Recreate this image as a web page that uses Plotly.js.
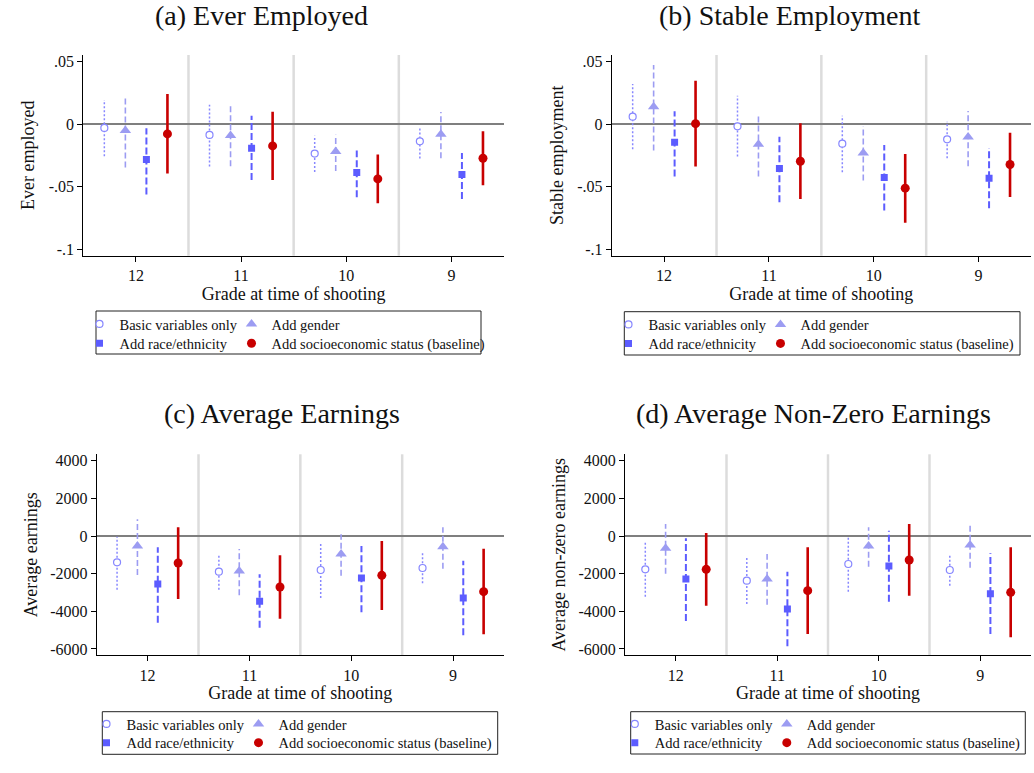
<!DOCTYPE html>
<html>
<head>
<meta charset="utf-8">
<script src="https://cdn.plot.ly/plotly-3.0.1.min.js"></script>
<style>
html,body{margin:0;padding:0;background:#fff;}
#chart{width:1034px;height:773px;}
</style>
</head>
<body>
<div id="chart"></div>
<script>
// ---------- data ----------
const grades = ['12', '11', '10', '9'];
const seriesNames = ['Basic variables only', 'Add gender', 'Add race/ethnicity', 'Add socioeconomic status (baseline)'];
const panelTitles = ['(a) Ever Employed', '(b) Stable Employment', '(c) Average Earnings', '(d) Average Non-Zero Earnings'];
const yTitles = ['Ever employed', 'Stable employment', 'Average earnings', 'Average non-zero earnings'];
const xTitle = 'Grade at time of shooting';

const propTickVals = [0.05, 0, -0.05, -0.1];
const propTickText = ['.05', '0', '-.05', '-.1'];
const earnTickVals = [4000, 2000, 0, -2000, -4000, -6000];
const earnTickText = ['4000', '2000', '0', '-2000', '-4000', '-6000'];

// (a) Ever employed
const ever_basic = [-0.0029, -0.0085, -0.0234, -0.0136];
const ever_basic_lo = [-0.0256, -0.0338, -0.0381, -0.0274];
const ever_basic_hi = [0.0194, 0.0157, -0.0091, -0.0019];
const ever_gender = [-0.0050, -0.0090, -0.0218, -0.0080];
const ever_gender_lo = [-0.0346, -0.0336, -0.0373, -0.0272];
const ever_gender_hi = [0.0229, 0.0149, -0.0083, 0.0099];
const ever_race = [-0.0282, -0.0192, -0.0386, -0.0402];
const ever_race_lo = [-0.0562, -0.0445, -0.0583, -0.0597];
const ever_race_hi = [-0.0032, 0.0069, -0.0210, -0.0229];
const ever_ses = [-0.0077, -0.0173, -0.0437, -0.0272];
const ever_ses_lo = [-0.0394, -0.0445, -0.0631, -0.0487];
const ever_ses_hi = [0.0242, 0.0101, -0.0242, -0.0056];

// (b) Stable employment
const stable_basic = [0.0061, -0.0016, -0.0155, -0.0120];
const stable_basic_lo = [-0.0200, -0.0258, -0.0384, -0.0272];
const stable_basic_hi = [0.0322, 0.0229, 0.0069, 0.0021];
const stable_gender = [0.0141, -0.0160, -0.0229, -0.0101];
const stable_gender_lo = [-0.0210, -0.0418, -0.0450, -0.0336];
const stable_gender_hi = [0.0474, 0.0085, -0.0016, 0.0107];
const stable_race = [-0.0144, -0.0354, -0.0426, -0.0432];
const stable_race_lo = [-0.0418, -0.0623, -0.0690, -0.0671];
const stable_race_hi = [0.0104, -0.0099, -0.0165, -0.0189];
const stable_ses = [0.0005, -0.0296, -0.0511, -0.0322];
const stable_ses_lo = [-0.0338, -0.0597, -0.0788, -0.0581];
const stable_ses_hi = [0.0349, 0.0008, -0.0237, -0.0067];

// (c) Average earnings
const earn_basic = [-1398, -1894, -1805, -1699];
const earn_basic_lo = [-2850, -2850, -3292, -2513];
const earn_basic_hi = [-35, -956, -319, -920];
const earn_gender = [-531, -1858, -956, -566];
const earn_gender_lo = [-2071, -3150, -2106, -1735];
const earn_gender_hi = [885, -690, 88, 460];
const earn_race = [-2549, -3469, -2230, -3292];
const earn_race_lo = [-4602, -4867, -4053, -5275];
const earn_race_hi = [-602, -2035, -531, -1310];
const earn_ses = [-1434, -2708, -2089, -2956];
const earn_ses_lo = [-3345, -4389, -3929, -5222];
const earn_ses_hi = [460, -1027, -265, -673];

// (d) Average non-zero earnings
const nz_basic = [-1770, -2372, -1487, -1805];
const nz_basic_lo = [-3221, -3611, -2956, -2637];
const nz_basic_hi = [-319, -1133, -35, -1009];
const nz_gender = [-655, -2283, -531, -478];
const nz_gender_lo = [-2000, -3646, -1628, -1681];
const nz_gender_hi = [637, -956, 460, 566];
const nz_race = [-2283, -3876, -1593, -3062];
const nz_race_lo = [-4514, -5859, -3487, -5204];
const nz_race_hi = [-124, -1894, 283, -920];
const nz_ses = [-1770, -2903, -1274, -2991];
const nz_ses_lo = [-3699, -5204, -3168, -5381];
const nz_ses_hi = [159, -602, 637, -602];

// ---------- layout / styling ----------
const W = 1034, H = 773;
const px = v => v / W;
const py = v => 1 - v / H;
const FONT = 'Liberation Serif, Times New Roman, serif';

const styles = [
  {symbol: 'circle', size: 7, fill: '#ffffff', color: '#8787ff', lw: 1.2, dash: '2px,2px', width: 1.5},
  {symbol: 'triangle-up', size: 10, fill: '#9c9cf2', color: '#9c9cf2', lw: 0, dash: '6px,3px', width: 1.6},
  {symbol: 'square', size: 7, fill: '#5c5cff', color: '#5c5cff', lw: 0, dash: '7px,3px', width: 2},
  {symbol: 'circle', size: 9, fill: '#c80000', color: '#c80000', lw: 0, dash: 'solid', width: 2.6}
];
const offsets = [-0.3, -0.1, 0.1, 0.3];

const panels = [
  {est: [ever_basic, ever_gender, ever_race, ever_ses], lo: [ever_basic_lo, ever_gender_lo, ever_race_lo, ever_ses_lo],
   hi: [ever_basic_hi, ever_gender_hi, ever_race_hi, ever_ses_hi],
   xd: [83.3, 504], yd: [55, 255.7], yr: [-0.1051, 0.0554], tv: propTickVals, tt: propTickText,
   title: [261, 15], legendRows: [324, 343.3], legendX: 92.5, box: [96, 311, 481, 354], ys: 9},
  {est: [stable_basic, stable_gender, stable_race, stable_ses], lo: [stable_basic_lo, stable_gender_lo, stable_race_lo, stable_ses_lo],
   hi: [stable_basic_hi, stable_gender_hi, stable_race_hi, stable_ses_hi],
   xd: [611.7, 1031], yd: [55, 255.7], yr: [-0.1051, 0.0554], tv: propTickVals, tt: propTickText,
   title: [790, 15], legendRows: [324.5, 343.5], legendX: 621.5, box: [624.3, 311.7, 1020, 355], ys: 8},
  {est: [earn_basic, earn_gender, earn_race, earn_ses], lo: [earn_basic_lo, earn_gender_lo, earn_race_lo, earn_ses_lo],
   hi: [earn_basic_hi, earn_gender_hi, earn_race_hi, earn_ses_hi],
   xd: [96.7, 504], yd: [454.3, 655.3], yr: [-6335, 4340], tv: earnTickVals, tt: earnTickText,
   title: [282, 413], legendRows: [724, 742.7], legendX: 99.5, box: [102.3, 711.7, 497.7, 754.3], ys: 7},
  {est: [nz_basic, nz_gender, nz_race, nz_ses], lo: [nz_basic_lo, nz_gender_lo, nz_race_lo, nz_ses_lo],
   hi: [nz_basic_hi, nz_gender_hi, nz_race_hi, nz_ses_hi],
   xd: [625, 1031], yd: [454.3, 655.3], yr: [-6335, 4340], tv: earnTickVals, tt: earnTickText,
   title: [813, 413], legendRows: [724, 742.7], legendX: 627.8, box: [630.7, 711.7, 1025.3, 754], ys: 8}
];

const data = [];
const layout = {
  width: W, height: H,
  margin: {l: 0, r: 0, t: 0, b: 0},
  paper_bgcolor: '#ffffff', plot_bgcolor: '#ffffff',
  font: {family: FONT, color: '#111', size: 16},
  showlegend: true,
  annotations: [], shapes: []
};

panels.forEach((p, pi) => {
  const n = pi === 0 ? '' : String(pi + 1);
  const xa = 'x' + n, ya = 'y' + n;
  const legA = pi === 0 ? 'legend' : 'legend' + (2 * pi + 1);
  const legB = 'legend' + (2 * pi + 2);

  // CI lines first
  for (let s = 0; s < 4; s++) {
    const xs = [], ys = [];
    grades.forEach((g, gi) => {
      const x = gi + offsets[s];
      xs.push(x, x, null);
      ys.push(p.lo[s][gi], p.hi[s][gi], null);
    });
    data.push({type: 'scatter', mode: 'lines', x: xs, y: ys, xaxis: xa, yaxis: ya,
      line: {color: styles[s].color, width: styles[s].width, dash: styles[s].dash},
      showlegend: false, hoverinfo: 'skip'});
  }
  // point estimates
  for (let s = 0; s < 4; s++) {
    const tr = {type: 'scatter', mode: 'markers', name: seriesNames[s],
      x: grades.map((g, gi) => gi + offsets[s]), y: p.est[s], xaxis: xa, yaxis: ya,
      marker: {symbol: styles[s].symbol, size: styles[s].size, color: styles[s].fill,
        line: {color: styles[s].color, width: styles[s].lw}},
      legend: s < 2 ? legA : legB, showlegend: true};
    if (s % 2 === 0) tr.legendwidth = 120;
    data.push(tr);
  }

  layout['xaxis' + n] = {
    domain: [px(p.xd[0]), px(p.xd[1])], anchor: ya, range: [-0.5, 3.5],
    tickvals: [0, 1, 2, 3], ticktext: grades, tickfont: {size: 16, color: '#111'},
    showline: true, linecolor: '#000', linewidth: 1, ticks: 'outside', ticklen: 5, tickcolor: '#000',
    showgrid: false, zeroline: false, fixedrange: true,
    title: {text: xTitle, font: {size: 18, color: '#111'}, standoff: 2}
  };
  layout['yaxis' + n] = {
    domain: [py(p.yd[1]), py(p.yd[0])], anchor: xa, range: p.yr,
    tickvals: p.tv, ticktext: p.tt, tickfont: {size: 16, color: '#111'},
    showline: true, linecolor: '#000', linewidth: 1, ticks: 'outside', ticklen: 5, tickcolor: '#000',
    showgrid: false, zeroline: true, zerolinecolor: '#7f7f7f', zerolinewidth: 2, fixedrange: true,
    title: {text: yTitles[pi], font: {size: 18, color: '#111'}, standoff: p.ys}
  };

  // group separators
  [0.5, 1.5, 2.5].forEach(k => layout.shapes.push({type: 'line', xref: xa, yref: ya + ' domain',
    x0: k, x1: k, y0: 0, y1: 1, line: {color: '#dcdcdc', width: 2.5}, layer: 'below'}));

  // panel title
  layout.annotations.push({text: panelTitles[pi], xref: 'paper', yref: 'paper',
    x: px(p.title[0]), y: py(p.title[1]), xanchor: 'center', yanchor: 'middle', showarrow: false,
    font: {size: 28, color: '#111', family: FONT}});

  // legend box
  layout.shapes.push({type: 'rect', xref: 'paper', yref: 'paper',
    x0: px(p.box[0]), x1: px(p.box[2]), y0: py(p.box[3]), y1: py(p.box[1]),
    line: {color: '#222', width: 1}, fillcolor: 'rgba(0,0,0,0)'});

  [legA, legB].forEach((lid, r) => {
    layout[lid] = {orientation: 'h', x: px(p.legendX), y: py(p.legendRows[r]), xanchor: 'left', yanchor: 'middle',
      xref: 'paper', yref: 'paper', bgcolor: 'rgba(0,0,0,0)', borderwidth: 0,
      font: {size: 14.5, color: '#111', family: FONT},
      itemwidth: 30, indentation: -13, tracegroupgap: 0, itemclick: false, itemdoubleclick: false};
  });
});

Plotly.newPlot('chart', data, layout, {displayModeBar: false, staticPlot: true});
</script>
</body>
</html>
